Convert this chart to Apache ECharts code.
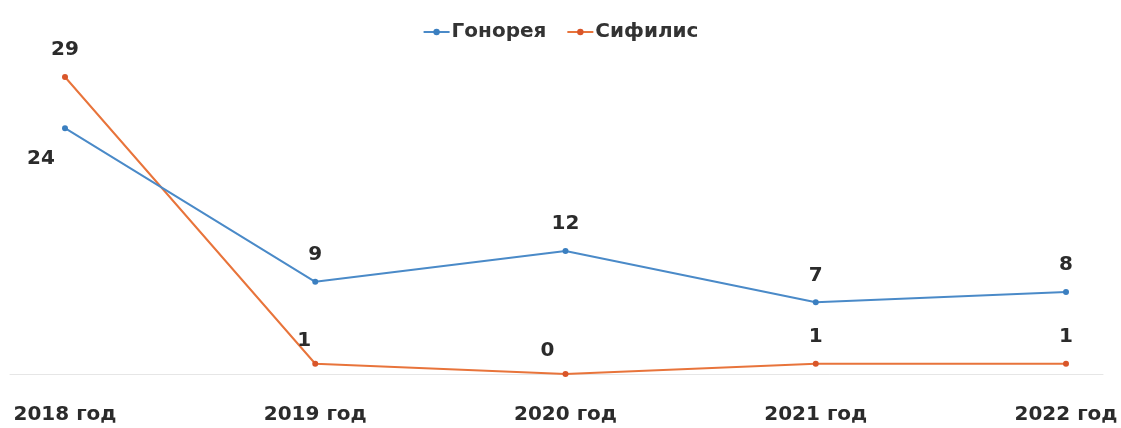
<!DOCTYPE html>
<html><head><meta charset="utf-8">
<script src="https://cdn.jsdelivr.net/npm/echarts@6/dist/echarts.min.js"></script>
<style>html,body{margin:0;padding:0;background:#fff}#c{width:1121px;height:428px}</style>
</head><body><div id="c"></div>
<script>
const categories = ['2018 год', '2019 год', '2020 год', '2021 год', '2022 год'];
const gonorrhea = [24, 9, 12, 7, 8];
const syphilis = [29, 1, 0, 1, 1];
const seriesNames = ['Гонорея', 'Сифилис'];

const FONT = 'DejaVu Sans';
const labelStyle = {show: true, position: 'top', distance: 14, fontFamily: FONT, fontWeight: 'bold', fontSize: 20, color: '#2b2b2b'};
const gData = gonorrhea.map((v, i) => i === 0 ? {value: v, label: {position: 'bottom', offset: [-24, 4]}} : v);
const sData = syphilis.map((v, i) => i === 2 ? {value: v, label: {offset: [-18, 4]}} : (i === 1 ? {value: v, label: {offset: [-11, 4]}} : v));

const chart = echarts.init(document.getElementById('c'));
chart.setOption({
  animation: false,
  legend: {
    top: 17, left: 'center', itemGap: 20, itemWidth: 26, itemHeight: 8,
    lineStyle: {width: 2},
    itemStyle: {borderWidth: 0},
    textStyle: {fontFamily: FONT, fontWeight: 'bold', fontSize: 20, color: '#333', padding: [0, 0, 0, -3]},
    data: seriesNames
  },
  grid: [
    {left: 65, right: 55, top: 77, bottom: 54},
    {left: 10, right: 18, top: 77, bottom: 54}
  ],
  xAxis: [
    {type: 'category', data: categories, boundaryGap: false, gridIndex: 0,
     axisLine: {show: false}, axisTick: {show: false},
     axisLabel: {fontFamily: FONT, fontWeight: 'bold', fontSize: 20, color: '#2b2b2b', margin: 31}},
    {type: 'value', gridIndex: 1, show: true, min: 0, max: 1,
     axisLine: {show: true, lineStyle: {color: '#e6e6e6', width: 1}},
     axisTick: {show: false}, axisLabel: {show: false}, splitLine: {show: false}}
  ],
  yAxis: [
    {type: 'value', min: 0, max: 29, gridIndex: 0, show: false},
    {type: 'value', min: 0, max: 1, gridIndex: 1, show: false}
  ],
  series: [
    {name: seriesNames[0], type: 'line', data: gData, xAxisIndex: 0, yAxisIndex: 0,
     color: '#3f83c6', symbol: 'circle', symbolSize: 6,
     lineStyle: {width: 2, color: '#4a8ac8'}, itemStyle: {color: '#3b7fc0'},
     label: labelStyle, z: 3},
    {name: seriesNames[1], type: 'line', data: sData, xAxisIndex: 0, yAxisIndex: 0,
     color: '#e8703a', symbol: 'circle', symbolSize: 6,
     lineStyle: {width: 2, color: '#e8743b'}, itemStyle: {color: '#d9562a'},
     label: labelStyle, z: 2}
  ]
});
</script></body></html>
